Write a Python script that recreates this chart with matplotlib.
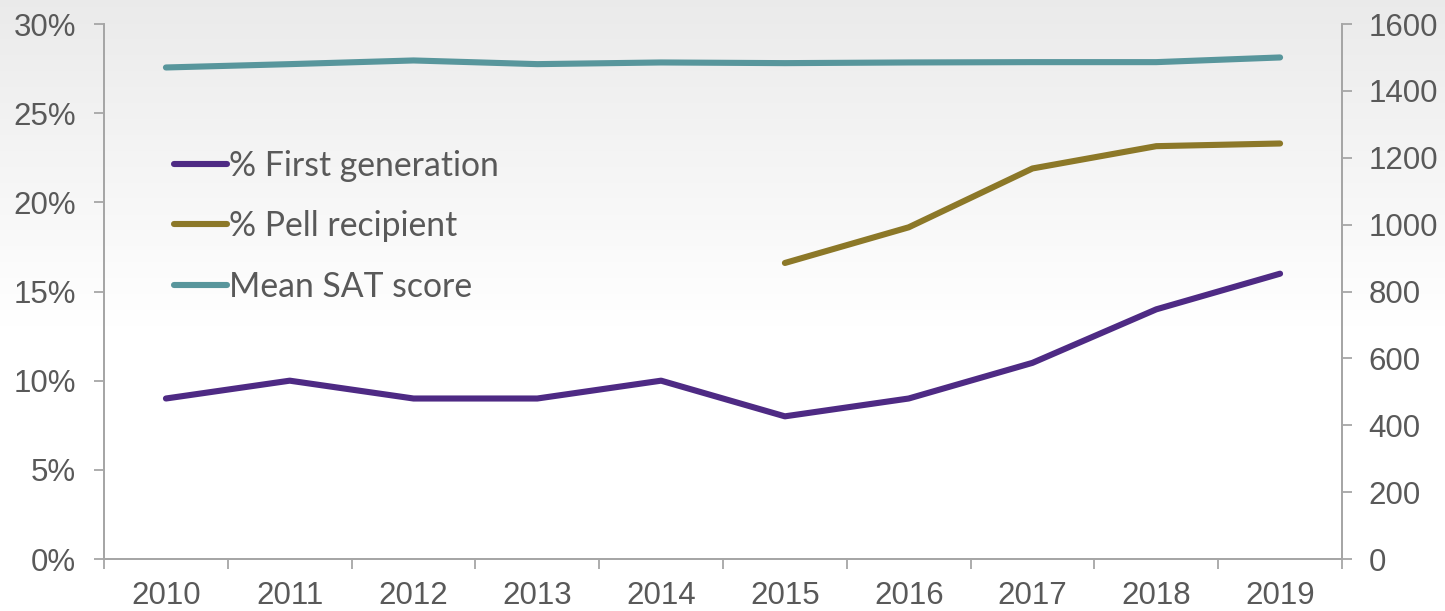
import numpy as np
import matplotlib.pyplot as plt
from matplotlib.ticker import FuncFormatter

years = [2010, 2011, 2012, 2013, 2014, 2015, 2016, 2017, 2018, 2019]
first_gen = [9, 10, 9, 9, 10, 8, 9, 11, 14, 16]
pell = [np.nan, np.nan, np.nan, np.nan, np.nan, 16.6, 18.6, 21.9, 23.15, 23.3]
sat = [1470, 1480, 1491, 1480, 1485, 1483, 1485, 1486, 1486, 1500]

label_color = "#595959"
axis_color = "#a6a6a6"

plt.rcParams["font.family"] = ["Liberation Sans", "DejaVu Sans"]

fig = plt.figure(figsize=(14.45, 6.11), dpi=100)

# soft grey-to-white background gradient (top -> middle)
bg = fig.add_axes([0, 0, 1, 1], zorder=-10)
grad = np.clip(np.linspace(0.92, 1.07, 256), 0, 1)[:, None]
img = np.dstack([grad, grad, grad])
bg.imshow(img, aspect="auto", extent=[0, 1, 0, 1], origin="upper")
bg.set_xlim(0, 1)
bg.set_ylim(0, 1)
bg.axis("off")

ax = fig.add_axes([0.072, 0.0851, 0.8567, 0.8756])
ax.set_facecolor("none")
ax2 = ax.twinx()

x = np.arange(len(years))
l1, = ax.plot(x, first_gen, color="#4e2a84", lw=4.4, solid_capstyle="round",
              solid_joinstyle="round", label="% First generation")
l2, = ax.plot(x, pell, color="#8c7828", lw=4.4, solid_capstyle="round",
              solid_joinstyle="round", label="% Pell recipient")
l3, = ax2.plot(x, sat, color="#58969c", lw=4.4, solid_capstyle="round",
               solid_joinstyle="round", label="Mean SAT score")

ax.set_xlim(-0.5, len(years) - 0.5)
ax.set_ylim(0, 30)
ax2.set_ylim(0, 1600)
ax.set_yticks(range(0, 31, 5))
ax.yaxis.set_major_formatter(FuncFormatter(lambda v, p: f"{v:.0f}%"))
ax2.set_yticks(range(0, 1601, 200))

ax.set_xticks(x)
ax.set_xticklabels([str(y) for y in years])
ax.set_xticks(np.arange(-0.5, len(years)), minor=True)
ax.tick_params(axis="x", which="major", length=0, pad=16,
               labelsize=22.5, labelcolor=label_color)
ax.tick_params(axis="x", which="minor", length=7, width=1.3,
               color=axis_color, direction="out")
ax.tick_params(axis="y", length=7, width=1.3, color=axis_color,
               pad=13, labelsize=22.5, labelcolor=label_color)
ax2.tick_params(axis="y", length=7, width=1.3, color=axis_color,
                pad=12, labelsize=22.5, labelcolor=label_color)

for a in (ax, ax2):
    a.spines["top"].set_visible(False)
    for s in ("left", "right", "bottom"):
        a.spines[s].set_color(axis_color)
        a.spines[s].set_linewidth(1.3)

leg = ax.legend(handles=[l1, l2, l3], loc="upper left",
                bbox_to_anchor=(0.046, 0.79), frameon=False,
                prop={"family": ["Lato", "DejaVu Sans"], "size": 24.3},
                handlelength=1.55, handletextpad=0.08, labelspacing=0.84,
                borderaxespad=0)
for t in leg.get_texts():
    t.set_color(label_color)

fig.savefig("out.png", dpi=100)
